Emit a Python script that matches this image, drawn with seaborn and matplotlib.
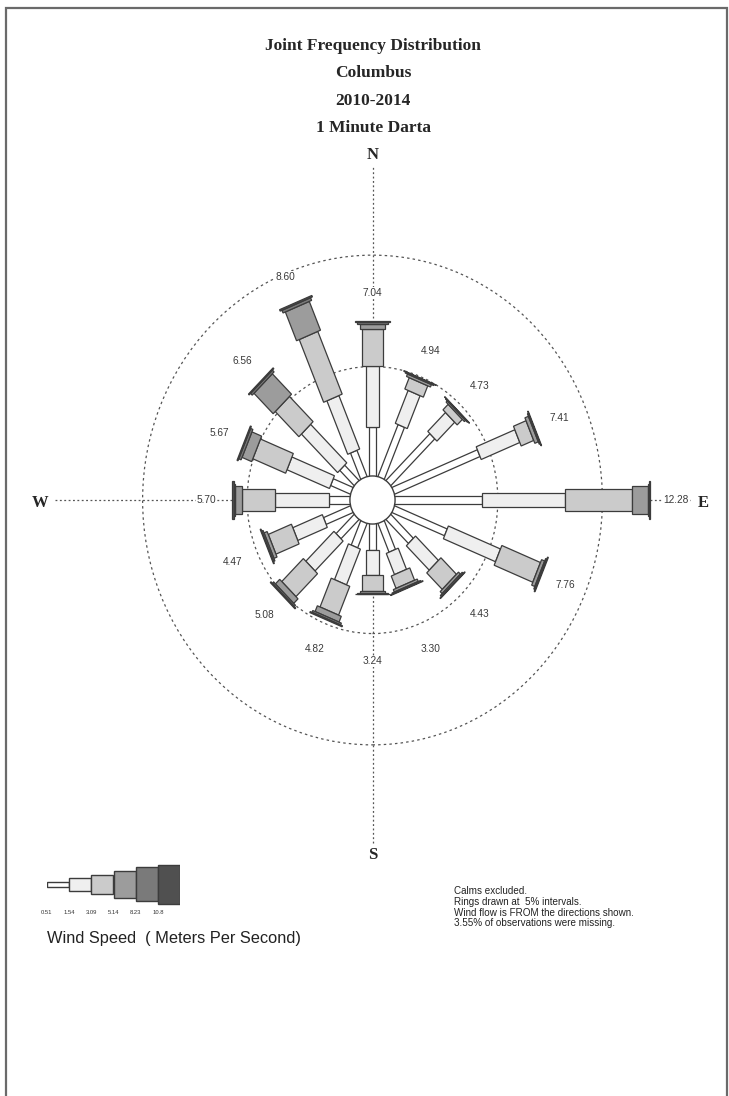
import numpy as np
import matplotlib
matplotlib.use("Agg")
import matplotlib.pyplot as plt
from matplotlib.patches import Circle, Rectangle
import seaborn as sns

# ---- data (percent of observations) ----
directions = ["N", "NNE", "NE", "ENE", "E", "ESE", "SE", "SSE",
              "S", "SSW", "SW", "WSW", "W", "WNW", "NW", "NNW"]
speed_labels = ["0.51", "1.54", "3.09", "5.14", "8.23", "10.8"]

cls1 = [2.30, 2.60, 3.05, 4.50, 4.26, 2.80, 1.60, 1.47, 1.25, 1.26, 1.30, 1.47, 1.10, 1.10, 1.05, 1.35]
cls2 = [2.70, 1.60, 1.20, 2.00, 3.97, 2.70, 1.55, 1.03, 1.11, 1.74, 1.90, 1.53, 2.57, 2.20, 2.45, 2.60]
cls3 = [1.70, 0.55, 0.35, 0.65, 3.21, 2.00, 1.05, 0.60, 0.74, 1.40, 1.46, 1.20, 1.56, 1.70, 1.60, 3.05]
cls4 = [0.20, 0.12, 0.08, 0.18, 0.76, 0.16, 0.13, 0.12, 0.08, 0.28, 0.29, 0.16, 0.33, 0.50, 1.30, 1.40]
cls5 = [0.09, 0.05, 0.03, 0.05, 0.05, 0.06, 0.07, 0.05, 0.04, 0.09, 0.08, 0.07, 0.09, 0.12, 0.11, 0.13]
cls6 = [0.05, 0.02, 0.02, 0.03, 0.03, 0.04, 0.03, 0.03, 0.02, 0.05, 0.05, 0.04, 0.05, 0.05, 0.05, 0.07]

title_lines = ["Joint Frequency Distribution", "Columbus", "2010-2014", "1 Minute Darta"]
notes = ["Calms excluded.",
         "Rings drawn at  5% intervals.",
         "Wind flow is FROM the directions shown.",
         "3.55% of observations were missing."]
ring_step = 5

# ---- style ----
sns.set_theme(style="white")
plt.rcParams["font.family"] = ["Liberation Sans", "DejaVu Sans"]

fill_colors = ["#ffffff", "#efefef", "#cbcbcb", "#9c9c9c", "#7a7a7a", "#505050"]
bar_widths = [0.33, 0.62, 0.96, 1.24, 1.48, 1.67]   # data units
legend_widths = [5, 13, 19, 27, 34, 39]              # pixels
edge = "#3c3c3c"
calm_r = 1.0

W, H = 729, 1096
cx, cy = 372.5, 500.0
px_x, px_y = 20.9, 22.26   # pixels per percent

fig = plt.figure(figsize=(W / 100, H / 100), dpi=100)
ax = fig.add_axes([0, 0, 1, 1])
ax.set_xlim(-cx / px_x, (W - cx) / px_x)
ax.set_ylim(-(H - cy) / px_y, cy / px_y)
ax.axis("off")

# page frame
fig.add_artist(Rectangle((6 / W, -0.01), (727 - 6) / W, 1 - 8 / H + 0.01,
                         transform=fig.transFigure, fill=False,
                         edgecolor="#6a6a6a", lw=1.6))

# compass cross and rings
ext = 15.2
ax.plot([0, 0], [-15.4, 15.05], color="#555555", lw=0.9, ls=(0, (1.5, 2)), zorder=1)
ax.plot([-ext, ext], [0, 0], color="#555555", lw=0.9, ls=(0, (1.5, 2)), zorder=1)
for k in (1, 2):
    ax.add_patch(Circle((0, 0), calm_r + k * ring_step, fill=False,
                        edgecolor="#555555", lw=0.9, ls=(0, (2, 2.5)), zorder=1))

classes = np.array([cls1, cls2, cls3, cls4, cls5, cls6])
cum = np.vstack([np.zeros(len(directions)), np.cumsum(classes, axis=0)])
totals = cum[-1]

for d, name in enumerate(directions):
    th = np.deg2rad(d * 22.5)
    u = np.array([np.sin(th), np.cos(th)])
    n = np.array([np.cos(th), -np.sin(th)])
    for c in range(6):
        r0, r1 = calm_r + cum[c, d], calm_r + cum[c + 1, d]
        hw = bar_widths[c] / 2
        pts = np.array([u * r0 + n * hw, u * r1 + n * hw, u * r1 - n * hw, u * r0 - n * hw])
        ax.fill(pts[:, 0], pts[:, 1], facecolor=fill_colors[c], edgecolor=edge,
                lw=0.9, zorder=3 + c * 0.01)
    rl = calm_r + max(totals[d], ring_step) + 1.25
    ax.text(u[0] * rl, u[1] * rl, f"{totals[d]:.2f}", fontsize=7.3, color="#3a3a3a",
            ha="center", va="center", zorder=5,
            bbox=dict(facecolor="white", edgecolor="none", pad=0.6))

ax.add_patch(Circle((0, 0), calm_r + 0.08, facecolor="white", edgecolor=edge, lw=1.0, zorder=4))

# titles and compass letters
serif = ["Liberation Serif", "DejaVu Serif"]
for i, line in enumerate(title_lines):
    fig.text(373 / W, 1 - (46 + 27.3 * i) / H, line, ha="center", va="center",
             fontsize=12.5, fontweight="bold", family=serif)
for lab, x, y in [("N", 373, 155), ("S", 373, 855), ("W", 40, 503), ("E", 703, 503)]:
    fig.text(x / W, 1 - y / H, lab, ha="center", va="center",
             fontsize=12, fontweight="bold", family=serif)

# speed legend
lax = fig.add_axes([47 / W, 1 - (884 + 25) / H, 133 / W, 50 / H])
lax.bar(np.arange(6), legend_widths, bottom=-np.array(legend_widths) / 2, width=1,
        align="edge", color=fill_colors, edgecolor=edge, lw=1.0)
lax.set_xlim(0, 6)
lax.set_ylim(-25, 25)
lax.axis("off")
for i, s in enumerate(speed_labels):
    fig.text((47 + i * 22.2) / W, 1 - 912 / H, s, ha="center", va="center",
             fontsize=4.2, color="#333333")
fig.text(47 / W, 1 - 939 / H, "Wind Speed  ( Meters Per Second)", ha="left", va="center",
         fontsize=11.8, color="#222222")

for i, line in enumerate(notes):
    fig.text(454 / W, 1 - (891 + 10.8 * i) / H, line, ha="left", va="center",
             fontsize=7.1, color="#222222")

fig.savefig("out.png", dpi=100)
